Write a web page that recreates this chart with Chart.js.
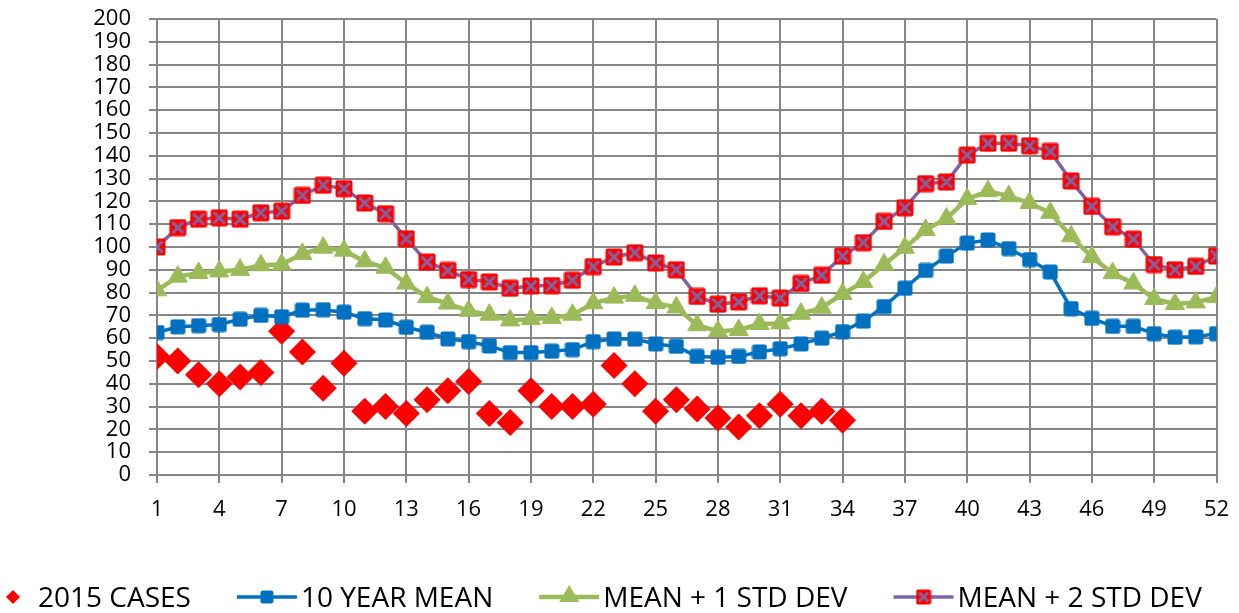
<!DOCTYPE html>
<html>
<head>
<meta charset="utf-8">
<script src="https://cdn.jsdelivr.net/npm/chart.js@4.4.1/dist/chart.umd.min.js"></script>
<style>
  html, body { margin: 0; padding: 0; background: #fff; overflow: hidden; }
  #wrap { width: 1239px; height: 613px; }
</style>
</head>
<body>
<div id="wrap"><canvas id="myChart"></canvas></div>
<script>
// Data
const weeks = [1, 2, 3, 4, 5, 6, 7, 8, 9, 10, 11, 12, 13, 14, 15, 16, 17, 18, 19, 20, 21, 22, 23, 24, 25, 26,
  27, 28, 29, 30, 31, 32, 33, 34, 35, 36, 37, 38, 39, 40, 41, 42, 43, 44, 45, 46, 47, 48, 49, 50, 51, 52];

const cases2015 = [52, 50, 44, 40, 43, 45, 63, 54, 38, 49, 28, 30, 27, 33, 37, 41, 27, 23, 37, 30, 30, 31, 48, 40,
  28, 33, 29, 25, 21, 26, 31, 26, 28, 24];

const mean10 = [62.5, 65, 65.5, 66, 68.3, 70, 69.4, 72.3, 72.5, 71.4, 68.6, 68, 64.8, 62.6, 59.7, 58.5, 56.6, 53.7,
  53.7, 54.3, 55, 58.5, 59.7, 59.6, 57.5, 56.4, 52, 51.6, 52, 54, 55.4, 57.5, 60, 62.9, 67.5, 73.9, 81.9, 89.7,
  96, 101.7, 103.1, 99.3, 94.5, 89, 73, 68.7, 65.2, 65.2, 62, 60.4, 60.6, 62];

const meanPlus1 = [81, 87, 88.6, 89.3, 90, 92, 92.3, 97, 99.7, 98.4, 93.7, 90.9, 84, 78, 75.2, 72, 70.3, 67.8,
  68.4, 68.9, 70.3, 75.3, 77.8, 78.6, 75.4, 73.5, 65.7, 63.1, 63.6, 66.2, 66.5, 70.7, 73.4, 79.4, 84.7, 92.3,
  99.7, 107.5, 112.5, 121, 124.5, 122.3, 119.3, 115, 104.7, 95.6, 88.5, 84, 77.2, 75, 75.7, 78];

const meanPlus2 = [100, 108.5, 112.2, 112.8, 112.2, 115, 115.7, 122.6, 127.1, 125.6, 119.3, 114.6, 103.6, 93.4,
  89.7, 85.7, 84.7, 81.9, 82.9, 83.1, 85.4, 91.4, 95.6, 97.5, 93, 90, 78.3, 74.9, 75.9, 78.6, 77.6, 84, 87.6,
  96, 101.9, 111.2, 117.2, 127.8, 128.5, 140.3, 145.5, 145.5, 144.4, 141.9, 129, 117.8, 108.9, 103.4, 92.3, 90,
  91.5, 96];

const seriesNames = ['2015 CASES', '10 YEAR MEAN', 'MEAN + 1 STD DEV', 'MEAN + 2 STD DEV'];

// Colours
const red = '#FF0000';
const blue = '#0070C0';
const green = '#9BBB59';
const purple = '#7F64A2';
const gridGray = '#868686';
const fontFamily = '"Open Sans", "Liberation Sans", sans-serif';

// Marker images
function roundRect(g, x, y, w, h, r) {
  g.beginPath();
  g.moveTo(x + r, y);
  g.lineTo(x + w - r, y);
  g.quadraticCurveTo(x + w, y, x + w, y + r);
  g.lineTo(x + w, y + h - r);
  g.quadraticCurveTo(x + w, y + h, x + w - r, y + h);
  g.lineTo(x + r, y + h);
  g.quadraticCurveTo(x, y + h, x, y + h - r);
  g.lineTo(x, y + r);
  g.quadraticCurveTo(x, y, x + r, y);
  g.closePath();
}

function makeSquare(size, color) {
  const c = document.createElement('canvas');
  c.width = size; c.height = size;
  const g = c.getContext('2d');
  g.fillStyle = color;
  roundRect(g, 0.5, 0.5, size - 1, size - 1, 2.5);
  g.fill();
  return c;
}

function makeCrossSquare(size) {
  const c = document.createElement('canvas');
  c.width = size; c.height = size;
  const g = c.getContext('2d');
  g.fillStyle = red;
  roundRect(g, 0.5, 0.5, size - 1, size - 1, 2);
  g.fill();
  g.strokeStyle = purple;
  g.lineWidth = 3;
  g.beginPath();
  g.moveTo(3.5, 3.5); g.lineTo(size - 3.5, size - 3.5);
  g.moveTo(size - 3.5, 3.5); g.lineTo(3.5, size - 3.5);
  g.stroke();
  return c;
}

const blueSquare = makeSquare(16, blue);
const crossSquare = makeCrossSquare(18);
const legendBlueSquare = makeSquare(14, blue);
const legendCross = makeCrossSquare(16);

// Legend drawn under the x axis, line + marker like the original
const bottomLegend = {
  id: 'bottomLegend',
  afterDraw(chart) {
    const ctx = chart.ctx;
    const baseY = 607;
    const midY = 597;
    ctx.save();
    ctx.font = '28px ' + fontFamily;
    ctx.textBaseline = 'alphabetic';
    let textX = 38;
    chart.data.datasets.forEach((ds, i) => {
      if (i === 0) {
        const cx = textX - 25;
        ctx.fillStyle = red;
        ctx.beginPath();
        ctx.moveTo(cx, midY - 7); ctx.lineTo(cx + 7, midY); ctx.lineTo(cx, midY + 7); ctx.lineTo(cx - 7, midY);
        ctx.closePath();
        ctx.fill();
      } else {
        const cx = textX - 34;
        ctx.strokeStyle = ds.borderColor;
        ctx.lineWidth = ds.borderWidth;
        ctx.beginPath();
        ctx.moveTo(textX - 64, midY); ctx.lineTo(textX - 4, midY);
        ctx.stroke();
        if (i === 1) {
          ctx.drawImage(legendBlueSquare, cx - 7, midY - 7);
        } else if (i === 2) {
          ctx.fillStyle = green;
          ctx.beginPath();
          ctx.moveTo(cx, midY - 12); ctx.lineTo(cx + 10, midY + 5); ctx.lineTo(cx - 10, midY + 5);
          ctx.closePath();
          ctx.fill();
        } else {
          ctx.drawImage(legendCross, cx - 8, midY - 8);
        }
      }
      ctx.fillStyle = '#000';
      ctx.fillText(ds.label, textX, baseY);
      textX += ctx.measureText(ds.label).width + 46 + 64;
    });
    ctx.restore();
  }
};

const ctx = document.getElementById('myChart').getContext('2d');
const myChart = new Chart(ctx, {
  type: 'line',
  data: {
    labels: weeks,
    datasets: [
      {
        label: seriesNames[0],
        data: cases2015,
        showLine: false,
        pointStyle: 'rectRot',
        pointRadius: 13.5,
        pointBackgroundColor: red,
        pointBorderColor: red,
        pointBorderWidth: 0,
        borderColor: red,
        backgroundColor: red,
        order: 4
      },
      {
        label: seriesNames[1],
        data: mean10,
        borderColor: blue,
        backgroundColor: blue,
        borderWidth: 3.5,
        pointStyle: blueSquare,
        pointRadius: 8,
        order: 3
      },
      {
        label: seriesNames[2],
        data: meanPlus1,
        borderColor: green,
        backgroundColor: green,
        borderWidth: 4.5,
        pointStyle: 'triangle',
        pointRadius: 11,
        pointBackgroundColor: green,
        pointBorderColor: green,
        pointBorderWidth: 1,
        order: 2
      },
      {
        label: seriesNames[3],
        data: meanPlus2,
        borderColor: purple,
        backgroundColor: purple,
        borderWidth: 3.5,
        pointStyle: crossSquare,
        pointRadius: 9,
        order: 1
      }
    ]
  },
  options: {
    responsive: true,
    maintainAspectRatio: false,
    animation: false,
    events: [],
    tension: 0,
    layout: {
      padding: { top: 19, right: 22.5, bottom: 0, left: 0 }
    },
    plugins: {
      legend: { display: false },
      tooltip: { enabled: false }
    },
    scales: {
      x: {
        type: 'linear',
        min: 1,
        max: 52,
        ticks: {
          stepSize: 3,
          autoSkip: false,
          maxRotation: 0,
          padding: 14,
          color: '#000',
          font: { family: fontFamily, size: 22 }
        },
        grid: { color: gridGray, lineWidth: 2, tickLength: 8 },
        border: { color: gridGray, width: 2 },
        afterFit(scale) {
          scale.height = 138;
          scale.paddingLeft = 0;
          scale.paddingRight = 0;
        }
      },
      y: {
        min: 0,
        max: 200,
        ticks: {
          stepSize: 10,
          autoSkip: false,
          padding: 18,
          color: '#000',
          font: { family: fontFamily, size: 22 }
        },
        grid: { color: gridGray, lineWidth: 2, tickLength: 8 },
        border: { color: gridGray, width: 2 },
        afterFit(scale) {
          scale.width = 157;
          scale.paddingTop = 0;
          scale.paddingBottom = 0;
        }
      }
    }
  },
  plugins: [bottomLegend]
});
</script>
</body>
</html>
